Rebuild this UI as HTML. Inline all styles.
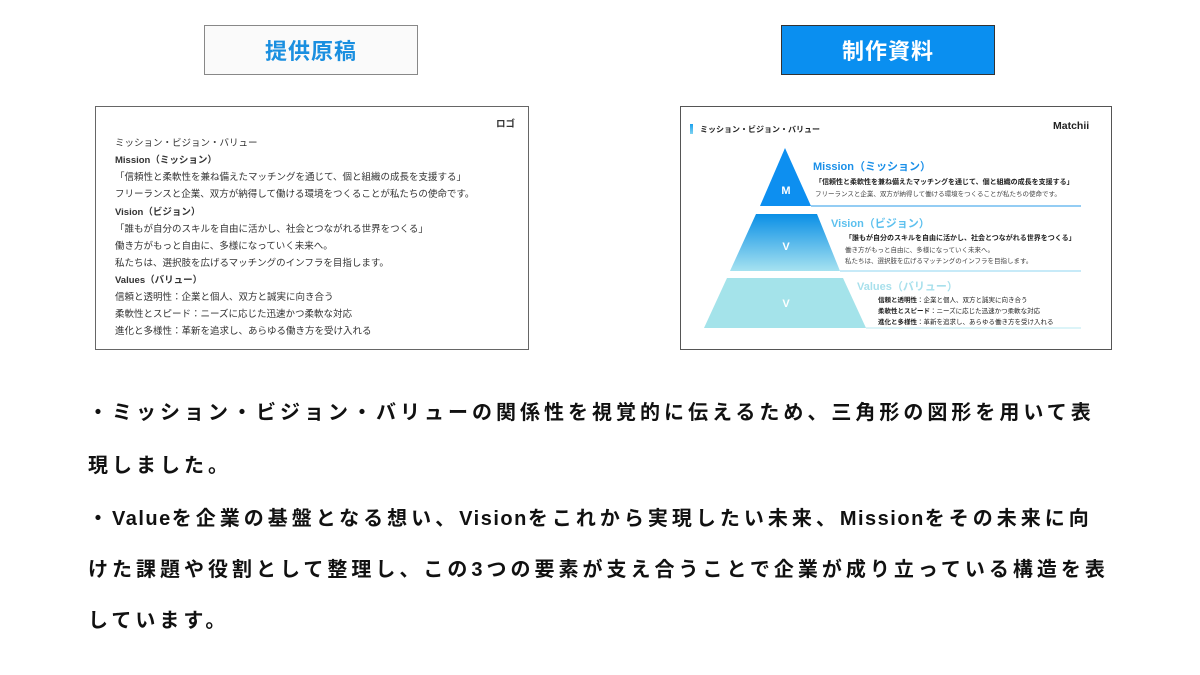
<!DOCTYPE html>
<html><head><meta charset="utf-8"><style>
*{margin:0;padding:0;box-sizing:border-box}
body{width:1200px;height:675px;background:#fff;position:relative;overflow:hidden;font-family:"Liberation Sans","Noto Sans CJK JP",sans-serif;color:#222}
.a{position:absolute;white-space:nowrap}
.hb{position:absolute;top:25px;width:214px;height:50px;display:flex;align-items:center;justify-content:center;font-size:22px;font-weight:bold;letter-spacing:1px}
.lp{position:absolute;left:95px;top:106px;width:434px;height:244px;border:1px solid #666}
.lp div{position:absolute;left:19px;font-size:9.5px;color:#333;white-space:nowrap}
.rp{position:absolute;left:680px;top:106px;width:432px;height:244px;border:1px solid #555}
.bt{position:absolute;left:88px;font-size:20px;font-weight:bold;letter-spacing:4px;white-space:nowrap;color:#111}
.bt span{letter-spacing:1.5px}
</style></head><body>
<div class="hb" style="left:204px;border:1px solid #888;background:#fafafa;color:#1a8fe0">提供原稿</div>
<div class="hb" style="left:781px;border:1px solid #333;background:#0a8ff0;color:#fff">制作資料</div>

<div class="lp">
<div style="left:400px;top:9px;font-weight:bold">ロゴ</div>
<div style="top:28px">ミッション・ビジョン・バリュー</div>
<div style="top:45px;font-weight:bold">Mission（ミッション）</div>
<div style="top:62px">「信頼性と柔軟性を兼ね備えたマッチングを通じて、個と組織の成長を支援する」</div>
<div style="top:79px">フリーランスと企業、双方が納得して働ける環境をつくることが私たちの使命です。</div>
<div style="top:97px;font-weight:bold">Vision（ビジョン）</div>
<div style="top:114px">「誰もが自分のスキルを自由に活かし、社会とつながれる世界をつくる」</div>
<div style="top:131px">働き方がもっと自由に、多様になっていく未来へ。</div>
<div style="top:148px">私たちは、選択肢を広げるマッチングのインフラを目指します。</div>
<div style="top:165px;font-weight:bold">Values（バリュー）</div>
<div style="top:182px">信頼と透明性：企業と個人、双方と誠実に向き合う</div>
<div style="top:199px">柔軟性とスピード：ニーズに応じた迅速かつ柔軟な対応</div>
<div style="top:216px">進化と多様性：革新を追求し、あらゆる働き方を受け入れる</div>
</div>

<div class="rp"></div>
<svg class="a" style="left:0;top:0" width="1200" height="675">
<defs><linearGradient id="g" x1="0" y1="0" x2="0" y2="1"><stop offset="0" stop-color="#0a8fe6"/><stop offset="1" stop-color="#a6e2f0"/></linearGradient>
<linearGradient id="g2" x1="0" y1="0" x2="0" y2="1"><stop offset="0" stop-color="#1aa0ee"/><stop offset="1" stop-color="#7fd2f0"/></linearGradient></defs>
<rect x="690" y="124" width="3" height="10" fill="url(#g2)"/>
<polygon points="785,148 811,206 760,206" fill="#0d8ff0"/>
<polygon points="756,214 817,214 840,271 730,271" fill="url(#g)"/>
<polygon points="727,278 843,278 866,328 704,328" fill="#a4e3ea"/>
<line x1="811" y1="206" x2="1081" y2="206" stroke="#2a9be8" stroke-width="1"/>
<line x1="840" y1="271" x2="1081" y2="271" stroke="#8fd4f0" stroke-width="1"/>
<line x1="866" y1="328" x2="1081" y2="328" stroke="#b8e8f0" stroke-width="1"/>
<g fill="#fff" font-size="11" font-weight="bold" text-anchor="middle" font-family="Liberation Sans,sans-serif">
<text x="786" y="194">M</text><text x="786" y="250">V</text><text x="786" y="307">V</text></g>
</svg>
<div class="a" style="left:700px;top:124px;font-size:8px;font-weight:bold">ミッション・ビジョン・バリュー</div>
<div class="a" style="left:1053px;top:120px;font-size:10.5px;font-weight:bold">Matchii</div>
<div class="a" style="left:813px;top:158px;font-size:11px;font-weight:bold;color:#1a8fe8">Mission（ミッション）</div>
<div class="a" style="left:815px;top:177px;font-size:7px;font-weight:bold">「信頼性と柔軟性を兼ね備えたマッチングを通じて、個と組織の成長を支援する」</div>
<div class="a" style="left:815px;top:188px;font-size:6.5px;color:#444">フリーランスと企業、双方が納得して働ける環境をつくることが私たちの使命です。</div>
<div class="a" style="left:831px;top:215px;font-size:11px;font-weight:bold;color:#5cc0ee">Vision（ビジョン）</div>
<div class="a" style="left:845px;top:233px;font-size:7px;font-weight:bold">「誰もが自分のスキルを自由に活かし、社会とつながれる世界をつくる」</div>
<div class="a" style="left:845px;top:244px;font-size:6.5px;color:#444">働き方がもっと自由に、多様になっていく未来へ。</div>
<div class="a" style="left:845px;top:255px;font-size:6.5px;color:#444">私たちは、選択肢を広げるマッチングのインフラを目指します。</div>
<div class="a" style="left:857px;top:278px;font-size:11px;font-weight:bold;color:#a8e0ec">Values（バリュー）</div>
<div class="a" style="left:878px;top:294px;font-size:6.5px"><b>信頼と透明性</b>：企業と個人、双方と誠実に向き合う</div>
<div class="a" style="left:878px;top:305px;font-size:6.5px"><b>柔軟性とスピード</b>：ニーズに応じた迅速かつ柔軟な対応</div>
<div class="a" style="left:878px;top:316px;font-size:6.5px"><b>進化と多様性</b>：革新を追求し、あらゆる働き方を受け入れる</div>

<div class="bt" style="top:396px">・ミッション・ビジョン・バリューの関係性を視覚的に伝えるため、三角形の図形を用いて表</div>
<div class="bt" style="top:449px">現しました。</div>
<div class="bt" style="top:502px">・<span>Value</span>を企業の基盤となる想い、<span>Vision</span>をこれから実現したい未来、<span>Mission</span>をその未来に向</div>
<div class="bt" style="top:553px">けた課題や役割として整理し、この3つの要素が支え合うことで企業が成り立っている構造を表</div>
<div class="bt" style="top:604px">しています。</div>
</body></html>
